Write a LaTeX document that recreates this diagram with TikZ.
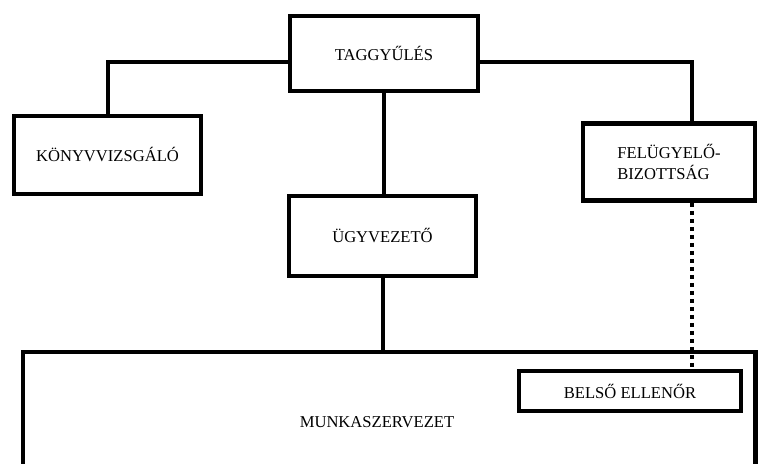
\documentclass[tikz,border=0pt]{standalone}
\usepackage{fontspec}
\setmainfont{Liberation Serif}
\tikzset{>=stealth}

\begin{document}
\begin{tikzpicture}[x=0.025cm, y=-0.025cm,
    box/.style={draw, line width=0.12cm, fill=white, inner sep=0pt, font=\fontsize{11.8}{15.5}\selectfont},
    link/.style={line width=0.1cm},
    dots/.style={line width=0.1cm, dash pattern=on 0.1cm off 0.1cm}]
    \useasboundingbox (0,0) rectangle (758,464);
    \node[box, minimum width=4.7cm, minimum height=1.875cm] (tagg) at (384,53.5) {TAGGYŰLÉS};
    \node[box, minimum width=4.675cm, minimum height=1.95cm] (konyv) at (107.5,155) {KÖNYVVIZSGÁLÓ};
    \node[box, minimum width=4.3cm, minimum height=1.925cm, align=left] (felugy) at (669,162) {FELÜGYELŐ-\\BIZOTTSÁG};
    \node[box, minimum width=4.675cm, minimum height=2cm] (ugyv) at (382.5,236) {ÜGYVEZETŐ};
    \node[box, minimum width=18.3cm, minimum height=3.05cm] (munka) at (389,413) {};
    \node[font=\fontsize{11.8}{15.5}\selectfont] (munkanev) at (377,422) {MUNKASZERVEZET};
    \node[box, minimum width=5.55cm, minimum height=1cm] (belso) at (630,391) {BELSŐ ELLENŐR};
    \draw[link] ([yshift=-0.21cm]tagg.west) -| (konyv);
    \draw[link] ([yshift=-0.21cm]tagg.east) -| ([xshift=0.575cm]felugy.north);
    \draw[link] (tagg.south) -- (tagg.south |- ugyv.north);
    \draw[link] (ugyv.south) -- (ugyv.south |- munka.north);
    \draw[dots] ([xshift=0.575cm]felugy.south) -- ([xshift=0.575cm]felugy.south |- belso.north);
\end{tikzpicture}
\end{document}
